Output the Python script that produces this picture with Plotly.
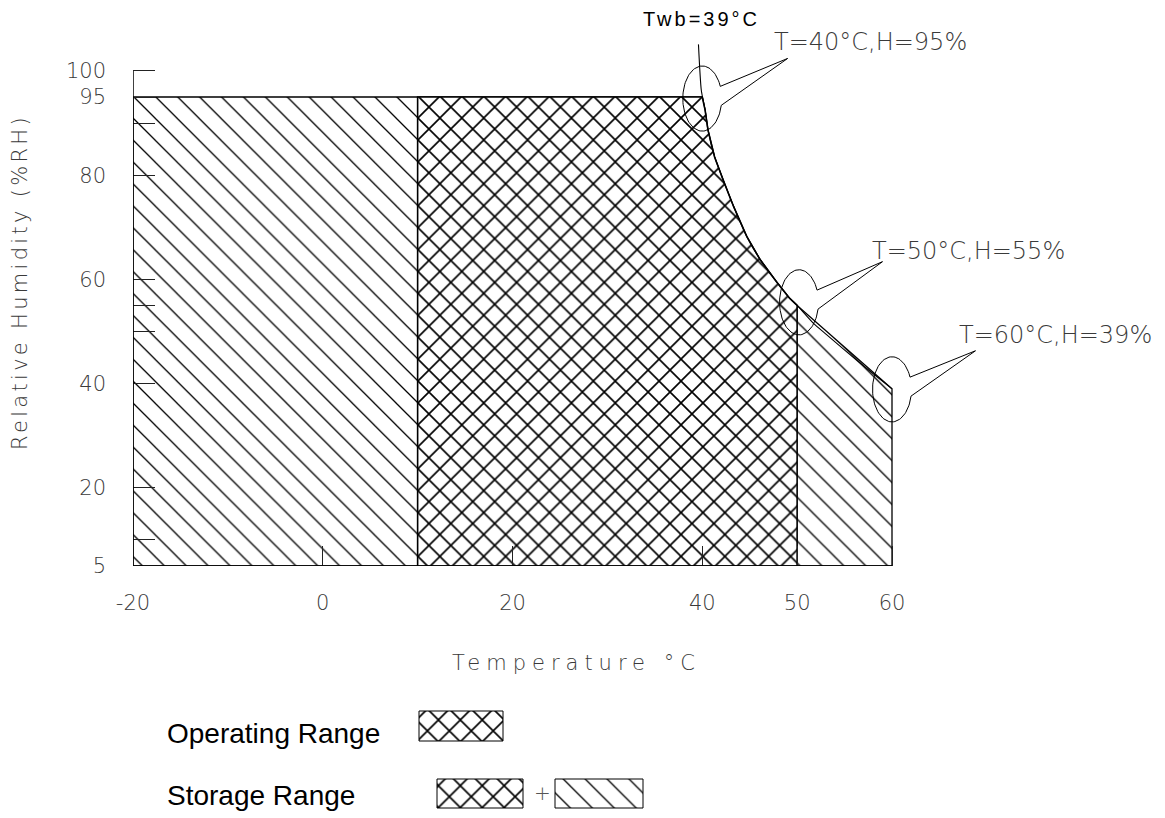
import numpy as np
import plotly.graph_objects as go

W, H = 1165, 818

# ---------------- data ----------------
temp_ticks = [-20, 0, 20, 40, 50, 60]
temp_tick_labels = ["-20", "0", "20", "40", "50", "60"]
rh_ticks = [5, 20, 40, 60, 80, 95, 100]
rh_tick_labels = ["5", "20", "40", "60", "80", "95", "100"]
rh_minor_ticks = [10, 50, 55, 90]

temp_min, temp_max = -20, 60
rh_min, rh_max, rh_axis_top = 5, 95, 100
op_temp_min, op_temp_max = 10, 50

# Twb = 39 °C boundary line
twb_temp = [39.6, 39.9, 40.3, 40.6, 41.3, 42.2, 43.3, 44.7, 46.1, 47.8, 49.2, 50.0, 51.7, 53.1, 56.6, 60.0]
twb_rh = [105.1, 96.3, 92.5, 88.7, 83.5, 79.1, 74.0, 68.2, 63.8, 59.6, 56.4, 55.0, 51.6, 49.4, 44.0, 39.0]

# corner points of the ranges
corner_temp = [40, 50, 60]
corner_rh = [95, 55, 39]

# callouts
callout_temp = [40.0, 50.2, 60.0]
callout_rh = [94.7, 55.6, 38.9]
callout_tip_temp = [49.0, 59.0, 68.8]
callout_tip_rh = [102.4, 63.4, 46.3]
callout_text = ["T=40°C,H=95%", "T=50°C,H=55%", "T=60°C,H=39%"]
callout_label_temp = [47.3, 57.65, 66.8]
callout_label_rh = [105.5, 65.5, 49.4]

twb_label = "Twb=39°C"
twb_label_temp, twb_label_rh = 39.9, 109.9

legend_labels = ["Operating Range", "Storage Range"]

# ---------------- geometry helpers ----------------
inner_curve = [(t, r) for t, r in zip(twb_temp, twb_rh) if corner_temp[0] < t < corner_temp[1]]

op_x = [op_temp_min, op_temp_min, corner_temp[0]] + [p[0] for p in inner_curve] + [corner_temp[1], op_temp_max, op_temp_min]
op_y = [rh_min, rh_max, corner_rh[0]] + [p[1] for p in inner_curve] + [corner_rh[1], rh_min, rh_min]

st_x = [temp_min, temp_min, corner_temp[0]] + [p[0] for p in inner_curve] + [corner_temp[1], corner_temp[2], temp_max, temp_min]
st_y = [rh_min, rh_max, corner_rh[0]] + [p[1] for p in inner_curve] + [corner_rh[1], corner_rh[2], rh_min, rh_min]

HATCH = dict(shape="\\", size=15.5, solidity=0.085, fgcolor="black", bgcolor="white", fillmode="replace")
CROSS = dict(shape="x", size=15.5, solidity=0.2, fgcolor="black", bgcolor="white", fillmode="replace")

fig = go.Figure()

fig.add_trace(go.Scatter(x=st_x, y=st_y, mode="lines", fill="toself",
                         line=dict(color="black", width=1.3), fillpattern=HATCH,
                         hoverinfo="skip", showlegend=False))
fig.add_trace(go.Scatter(x=op_x, y=op_y, mode="lines", fill="toself",
                         line=dict(color="black", width=1.6), fillpattern=CROSS,
                         hoverinfo="skip", showlegend=False))
fig.add_trace(go.Scatter(x=twb_temp, y=twb_rh, mode="lines",
                         line=dict(color="black", width=1.1, shape="spline", smoothing=0.6),
                         hoverinfo="skip", showlegend=False))


def bubble(cx, cy, tx, ty, rx=2.05, ry=6.25, a_up=22, a_dn=-12):
    t = np.radians(np.linspace(a_dn, a_up - 360, 90))
    xs = list(cx + rx * np.cos(t))
    ys = list(cy + ry * np.sin(t))
    return xs + [tx, xs[0]], ys + [ty, ys[0]]


for cx, cy, tx, ty in zip(callout_temp, callout_rh, callout_tip_temp, callout_tip_rh):
    bx, by = bubble(cx, cy, tx, ty)
    fig.add_trace(go.Scatter(x=bx, y=by, mode="lines", line=dict(color="black", width=1),
                             hoverinfo="skip", showlegend=False))

# axis spines (only over the drawn range)
fig.add_shape(type="line", x0=temp_min, x1=temp_min, y0=rh_min, y1=rh_axis_top, xref="x", yref="y",
              line=dict(color="black", width=1.5), layer="above")
fig.add_shape(type="line", x0=temp_min, x1=temp_max, y0=rh_min, y1=rh_min, xref="x", yref="y",
              line=dict(color="black", width=1.5), layer="above")

# legend swatches (own small axes in pixel units)
sw_x0 = [419, 437, 555]
sw_x1 = [503, 523, 643]
sw_y0 = [77, 10, 10]
sw_y1 = [107, 39, 39]
sw_pat = [CROSS, CROSS, HATCH]
for x0, x1, y0, y1, pat in zip(sw_x0, sw_x1, sw_y0, sw_y1, sw_pat):
    fig.add_trace(go.Scatter(x=[x0, x1, x1, x0, x0], y=[y0, y0, y1, y1, y0], mode="lines", fill="toself",
                             line=dict(color="black", width=1), fillpattern=pat,
                             xaxis="x2", yaxis="y2", hoverinfo="skip", showlegend=False))

GREY = "#3a3a3a"
TICKFONT = dict(family="DejaVu Sans", size=21, color=GREY, weight=300)
CALLFONT = dict(family="DejaVu Sans", size=24, color=GREY, weight=300)


def spaced(s, px):
    return f'<span style="letter-spacing:{px}px">{s}</span>'


ann = []
for t, r, s in zip(callout_label_temp, callout_label_rh, callout_text):
    ann.append(dict(x=t, y=r, xref="x", yref="y", text=s, showarrow=False, xanchor="left", yanchor="middle",
                    font=CALLFONT))
ann.append(dict(x=twb_label_temp, y=twb_label_rh, xref="x", yref="y", text=spaced(twb_label, 3), showarrow=False,
                xanchor="center", yanchor="middle", font=dict(family="Liberation Sans", size=20, color="black")))
ann.append(dict(x=20 / W, y=1 - 282 / H, xref="paper", yref="paper", text=spaced("Relative Humidity (%RH)", 3.3),
                textangle=-90, showarrow=False, xanchor="center", yanchor="middle", font=TICKFONT))
ann.append(dict(x=576 / W, y=1 - 663 / H, xref="paper", yref="paper", text=spaced("Temperature °C", 6),
                showarrow=False, xanchor="center", yanchor="middle", font=TICKFONT))
ann.append(dict(x=165 / W, y=1 - 733 / H, xref="paper", yref="paper", text=legend_labels[0],
                showarrow=False, xanchor="left", yanchor="middle",
                font=dict(family="Liberation Sans", size=28, color="black")))
ann.append(dict(x=165 / W, y=1 - 795 / H, xref="paper", yref="paper", text=legend_labels[1],
                showarrow=False, xanchor="left", yanchor="middle",
                font=dict(family="Liberation Sans", size=28, color="black")))
ann.append(dict(x=542 / W, y=1 - 793 / H, xref="paper", yref="paper", text="+",
                showarrow=False, xanchor="center", yanchor="middle",
                font=dict(family="DejaVu Sans", size=20, color="#555", weight=300)))

XS = 759 / 80.0      # px per °C
YS = 469 / 90.0      # px per %RH
x_top, y_top = 88, 112
fig.update_layout(
    width=W, height=H, margin=dict(l=0, r=0, t=0, b=0),
    paper_bgcolor="white", plot_bgcolor="rgba(0,0,0,0)",
    showlegend=False,
    xaxis=dict(domain=[133 / W, (133 + (x_top + 20) * XS) / W], range=[-20, x_top],
               showgrid=False, zeroline=False, showline=False,
               tickmode="array", tickvals=temp_ticks, ticktext=temp_tick_labels,
               ticks="inside", ticklen=20, tickwidth=1, tickcolor="#222",
               tickfont=TICKFONT, ticklabelstandoff=22, automargin=False),
    yaxis=dict(domain=[252 / H, (252 + (y_top - 5) * YS) / H], range=[5, y_top],
               showgrid=False, zeroline=False, showline=False,
               tickmode="array", tickvals=rh_ticks, ticktext=rh_tick_labels,
               ticks="inside", ticklen=22, tickwidth=1.2, tickcolor="#222",
               minor=dict(tickvals=rh_minor_ticks, ticks="inside", ticklen=22, tickwidth=1.2,
                          tickcolor="#222", showgrid=False),
               tickfont=TICKFONT, ticklabelstandoff=26, automargin=False),
    xaxis2=dict(domain=[0, 1], range=[0, W], visible=False, anchor="y2"),
    yaxis2=dict(domain=[0, 120 / H], range=[0, 120], visible=False, anchor="x2"),
    annotations=ann,
)

fig.write_html("out.html", config={"displayModeBar": False},
               post_script="document.body.style.margin='0px';")
